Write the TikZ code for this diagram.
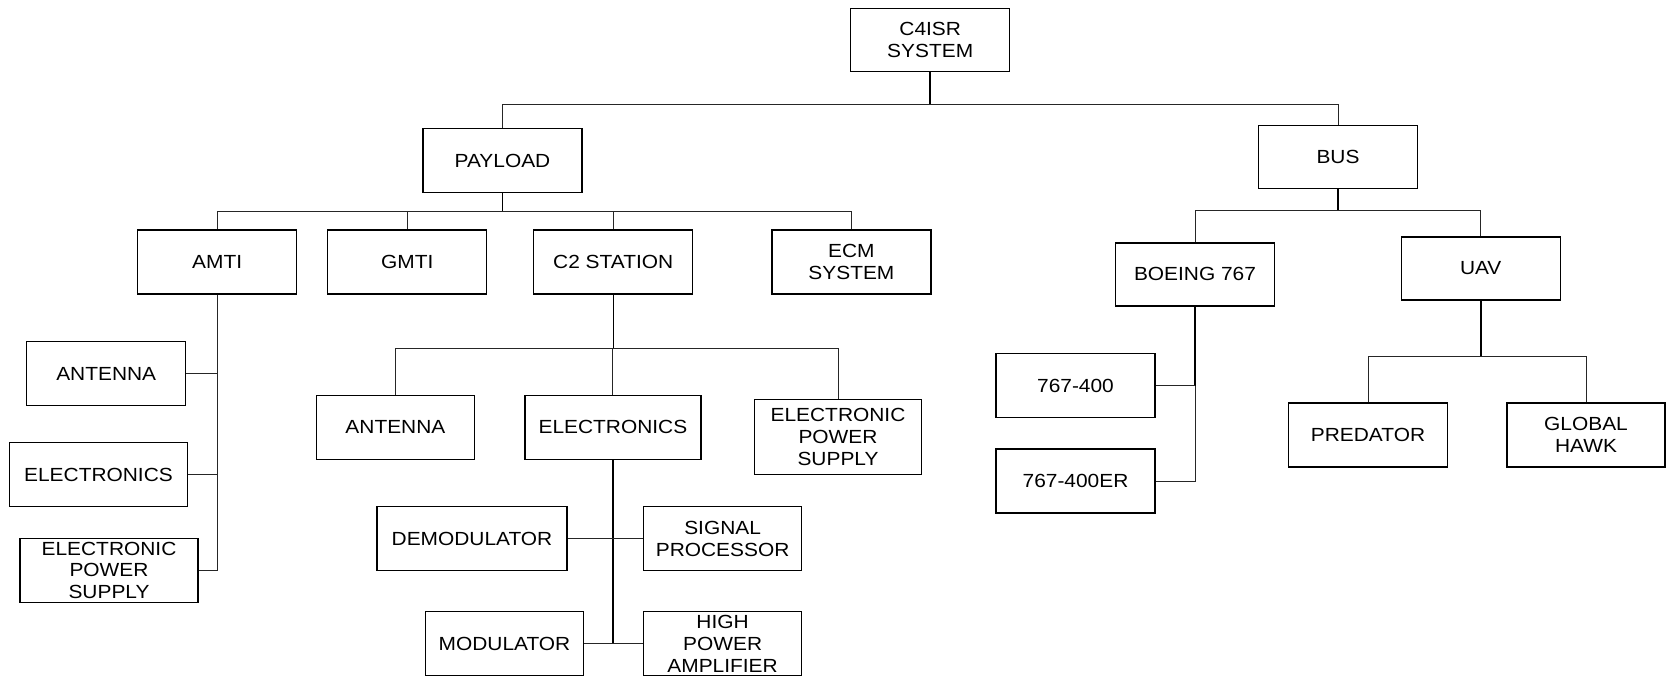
\documentclass[tikz,border=0pt]{standalone}
\usepackage{fontspec}
\setmainfont[FakeStretch=1.1]{Liberation Sans}
\usetikzlibrary{positioning, calc}

\begin{document}
\begin{tikzpicture}[x=1pt, y=-1pt,
  blk/.style={draw=black, line width=1.2pt, inner sep=0pt, align=center,
    minimum width=159pt, minimum height=64pt, font=\fontsize{19}{21.7}\selectfont},
  lnk/.style={draw=black!85, line width=1pt},
  trunk/.style={draw=black, line width=1.8pt}]
\useasboundingbox (0,0) rectangle (1669,678);

% Top levels
\node[blk, minimum height=63pt] (sys) at (930.2,40) {C4ISR\\SYSTEM};
\node[blk] (payload) at (502.5,160.5) {PAYLOAD};
\node[blk, minimum height=63pt] (bus) at (1338,157) {BUS};

% Payload items
\node[blk] (amti) at (217.2,262) {AMTI};
\node[blk] (gmti) at (407.2,262) {GMTI};
\node[blk] (ctwo) at (613.2,262) {C2 STATION};
\node[blk] (ecm) at (851.4,262) {ECM\\SYSTEM};

% AMTI parts
\node[blk] (antA) at (106.2,373.8) {ANTENNA};
\node[blk, minimum width=178pt] (elecA) at (98.5,474.7) {ELECTRONICS};
\node[blk, minimum width=178pt] (epsA) at (109,570.3) {ELECTRONIC\\POWER\\SUPPLY};

% C2 station parts
\node[blk, minimum width=158pt] (antC) at (395.4,427.3) {ANTENNA};
\node[blk, minimum width=176pt] (elecC) at (612.9,427.3) {ELECTRONICS};
\node[blk, minimum width=167pt, minimum height=75pt] (epsC) at (838,437) {ELECTRONIC\\POWER\\SUPPLY};
\node[blk, minimum width=190pt] (demod) at (472,538.7) {DEMODULATOR};
\node[blk, minimum width=158pt] (sigp) at (722.6,538.7) {SIGNAL\\PROCESSOR};
\node[blk, minimum width=158pt] (mod) at (504.5,643.7) {MODULATOR};
\node[blk, minimum width=158pt] (hpa) at (722.6,643.7) {HIGH\\POWER\\AMPLIFIER};

% Bus items
\node[blk, minimum height=63pt] (b767) at (1195,274.4) {BOEING 767};
\node[blk, minimum height=63pt] (uav) at (1480.7,268.4) {UAV};
\node[blk] (bfour) at (1075.5,385.5) {767-400};
\node[blk] (bfourer) at (1075.5,481) {767-400ER};
\node[blk] (pred) at (1368,435) {PREDATOR};
\node[blk, minimum width=158pt] (ghawk) at (1586,435) {GLOBAL\\HAWK};

% System to payload and bus
\draw[trunk] (sys.south) -- ++(0,32) coordinate (jsys);
\draw[lnk] (payload.north) |- (jsys) -| (bus.north);

% Payload tree
\draw[trunk] (payload.south) -- ++(0,18.5) coordinate (jpay);
\draw[lnk] (amti.north) |- (jpay) -| (ecm.north);
\draw[lnk] (gmti.north) -- (gmti.north |- jpay);
\draw[lnk] (ctwo.north) -- (ctwo.north |- jpay);

% AMTI branch
\draw[lnk] (amti.south) |- (epsA.east);
\draw[lnk] (antA.east) -- (antA.east -| amti.south);
\draw[lnk] (elecA.east) -- (elecA.east -| amti.south);

% C2 station branch
\draw[semithick, line width=1.3pt] (ctwo.south) -- ++(0,54) coordinate (jctwo);
\draw[lnk] (antC.north) |- (jctwo) -| (epsC.north);
\draw[lnk] (elecC.north) -- (elecC.north |- jctwo);
\draw[trunk] (elecC.south) -- (elecC.south |- mod.east) coordinate (jelec);
\draw[lnk] (demod.east) -- (sigp.west);
\draw[lnk] (mod.east) -- (hpa.west);

% Bus tree
\draw[trunk] (bus.south) -- ++(0,21.5) coordinate (jbus);
\draw[lnk] (b767.north) |- (jbus) -| (uav.north);
\draw[trunk] (b767.south) -- (b767.south |- bfour.east) coordinate (jb);
\draw[lnk] (jb) |- (bfourer.east);
\draw[lnk] (bfour.east) -- (jb);
\draw[trunk] (uav.south) -- ++(0,56) coordinate (juav);
\draw[lnk] (pred.north) |- (juav) -| (ghawk.north);
\end{tikzpicture}
\end{document}
